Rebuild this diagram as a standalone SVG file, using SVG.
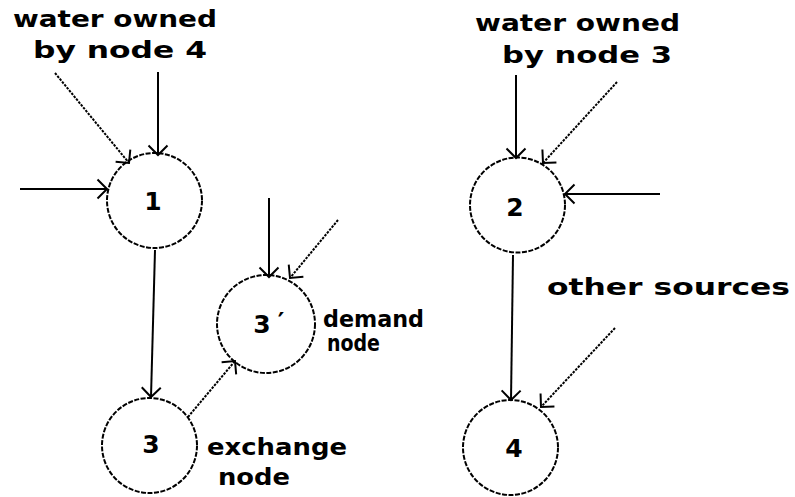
<svg xmlns="http://www.w3.org/2000/svg" width="795" height="497" viewBox="0 0 795 497">
<style>
.node circle{fill:none;stroke:#000;stroke-width:2;stroke-dasharray:5 1.5}
.num{font-family:"DejaVu Sans",sans-serif;font-weight:bold;font-size:25px;fill:#000;text-anchor:middle}
.lbl{font-family:"DejaVu Sans",sans-serif;font-weight:bold;font-size:23px;fill:#000}
.edge{stroke:#000;stroke-width:2;fill:none;marker-end:url(#arr)}
.dot{stroke-dasharray:2.5 1.2;stroke-width:2}
</style>
<defs>
<marker id="arr" markerUnits="userSpaceOnUse" markerWidth="26" markerHeight="26" refX="13" refY="13" orient="auto" viewBox="0 0 26 26">
<path d="M3.5 3.5 L13 13 L3.5 22.5" fill="none" stroke="#000" stroke-width="2"/>
</marker>
</defs>
<rect width="795" height="497" fill="#fff"/>
<g id="connectors">
<line class="edge" x1="20" y1="189" x2="107" y2="189"/>
<line class="edge dot" x1="55" y1="73" x2="129" y2="163"/>
<line class="edge" x1="158" y1="72" x2="158" y2="155"/>
<line class="edge" x1="155" y1="250" x2="151" y2="397"/>
<line class="edge dot" x1="188" y1="417" x2="235" y2="361"/>
<line class="edge" x1="269" y1="198" x2="269" y2="277"/>
<line class="edge dot" x1="338" y1="220" x2="290" y2="278"/>
<line class="edge" x1="516" y1="75" x2="516" y2="158"/>
<line class="edge dot" x1="617" y1="82" x2="543" y2="163"/>
<line class="edge" x1="660" y1="194" x2="565" y2="194"/>
<line class="edge" x1="513" y1="255" x2="511" y2="400"/>
<line class="edge dot" x1="615" y1="328" x2="541" y2="407"/>
</g>
<g id="node1" class="node">
<circle cx="154.5" cy="200.5" r="47.5"/>
<text class="num" x="153" y="210">1</text>
</g>
<g id="node2" class="node">
<circle cx="517.5" cy="205" r="47.5"/>
<text class="num" x="515" y="216">2</text>
</g>
<g id="node3p" class="node">
<circle cx="266" cy="324" r="49"/>
<text class="num" x="262" y="333">3</text>
<text class="num" x="281" y="330" font-size="22">′</text>
</g>
<g id="node3" class="node">
<circle cx="149.5" cy="445.5" r="47.5"/>
<text class="num" x="151" y="453">3</text>
</g>
<g id="node4" class="node">
<circle cx="510.5" cy="447.5" r="47.5"/>
<text class="num" x="514" y="457">4</text>
</g>
<g id="labels">
<text class="lbl" x="13" y="27" textLength="204" lengthAdjust="spacingAndGlyphs">water owned</text>
<text class="lbl" x="33" y="58" textLength="174" lengthAdjust="spacingAndGlyphs">by node 4</text>
<text class="lbl" x="475" y="31" textLength="205" lengthAdjust="spacingAndGlyphs">water owned</text>
<text class="lbl" x="502" y="63" textLength="170" lengthAdjust="spacingAndGlyphs">by node 3</text>
<text class="lbl" x="547" y="295" textLength="243" lengthAdjust="spacingAndGlyphs">other sources</text>
<text class="lbl" x="323" y="327" textLength="101" lengthAdjust="spacingAndGlyphs">demand</text>
<text class="lbl" x="327" y="351" textLength="53" lengthAdjust="spacingAndGlyphs">node</text>
<text class="lbl" x="207" y="455" textLength="140" lengthAdjust="spacingAndGlyphs">exchange</text>
<text class="lbl" x="218" y="485" textLength="72" lengthAdjust="spacingAndGlyphs">node</text>
</g>
</svg>
